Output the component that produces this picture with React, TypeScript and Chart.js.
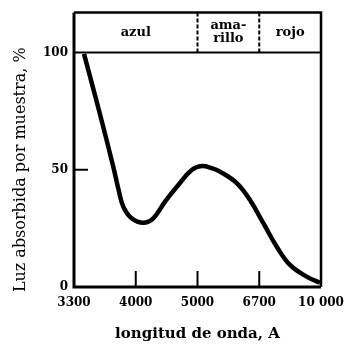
import React, { useEffect, useRef } from "react";
import { Chart, registerables } from "chart.js";

Chart.register(...registerables);

// Wavelength tick labels (equally spaced positions on the axis)
const xTickLabels = ["3300", "4000", "5000", "6700", "10 000"];
const yTicks = [0, 50, 100];

// Curve: position along the wavelength axis (tick index units) and absorbed light %
const curvePos = [0.162, 0.4, 0.636, 0.717, 0.798, 0.934, 1.122, 1.284, 1.474, 1.689, 1.906, 2.068, 2.23, 2.364, 2.635, 2.85, 3.066, 3.283, 3.498, 3.768, 3.984];
const curveValues = [99.4, 75.8, 51.3, 42.0, 34.3, 29.3, 27.4, 29.3, 36.4, 43.5, 49.9, 51.6, 50.7, 49.2, 44.3, 37.1, 27.2, 17.2, 9.4, 4.4, 1.8];

// Colour bands above the plot
const bandNames = ["azul", "ama-|rillo", "rojo"];
const bandEdges = [0, 2, 3, 4];

const yTitle = "Luz absorbida por muestra, %";
const xTitle = "longitud de onda, A";

const SERIF = "'DejaVu Serif', serif";

const framePlugin = {
  id: "framePlugin",
  afterDatasetsDraw(chart: any) {
    const { ctx, chartArea } = chart;
    const { left, right, top, bottom } = chartArea;
    const xs = chart.scales.x;
    const ys = chart.scales.y;
    const bandTop = top - 40;
    ctx.save();
    ctx.strokeStyle = "#000";
    ctx.lineCap = "butt";
    // frame
    ctx.lineWidth = 3;
    ctx.beginPath();
    ctx.moveTo(left, bandTop);
    ctx.lineTo(left, bottom);
    ctx.lineTo(right, bottom);
    ctx.stroke();
    ctx.lineWidth = 2.5;
    ctx.beginPath();
    ctx.moveTo(right, bottom);
    ctx.lineTo(right, bandTop);
    ctx.lineTo(left, bandTop);
    ctx.stroke();
    ctx.lineWidth = 2;
    ctx.beginPath();
    ctx.moveTo(left, top);
    ctx.lineTo(right, top);
    ctx.stroke();
    // inside ticks on y
    ctx.lineWidth = 2;
    yTicks.forEach((v) => {
      if (v === 0 || v === 100) return;
      const y = ys.getPixelForValue(v);
      ctx.beginPath();
      ctx.moveTo(left, y);
      ctx.lineTo(left + 14, y);
      ctx.stroke();
    });
    // inside ticks on x
    xTickLabels.forEach((_, i) => {
      if (i === 0 || i === xTickLabels.length - 1) return;
      const x = xs.getPixelForValue(i);
      ctx.beginPath();
      ctx.moveTo(x, bottom);
      ctx.lineTo(x, bottom - 16);
      ctx.stroke();
    });
    // band dividers
    ctx.setLineDash([4, 2]);
    ctx.lineWidth = 2;
    for (let i = 1; i < bandEdges.length - 1; i++) {
      const x = xs.getPixelForValue(bandEdges[i]);
      ctx.beginPath();
      ctx.moveTo(x, bandTop);
      ctx.lineTo(x, top);
      ctx.stroke();
    }
    ctx.setLineDash([]);
    // band labels
    ctx.fillStyle = "#000";
    ctx.font = "bold 13px " + SERIF;
    ctx.textAlign = "center";
    ctx.textBaseline = "middle";
    bandNames.forEach((name, i) => {
      const cx = (xs.getPixelForValue(bandEdges[i]) + xs.getPixelForValue(bandEdges[i + 1])) / 2;
      const lines = name.split("|");
      const mid = top - 20;
      const lh = 13;
      lines.forEach((ln, j) => {
        const y = mid + (j - (lines.length - 1) / 2) * lh;
        ctx.fillText(ln, cx, y);
      });
    });
    ctx.restore();
  },
};

export default function App() {
  const ref = useRef<HTMLCanvasElement | null>(null);
  useEffect(() => {
    if (!ref.current) return;
    const chart = new Chart(ref.current, {
      type: "line",
      data: {
        datasets: [
          {
            data: curvePos.map((x, i) => ({ x, y: curveValues[i] })),
            borderColor: "#000",
            borderWidth: 4.5,
            pointRadius: 0,
            tension: 0.4,
            fill: false,
            clip: false as any,
          },
        ],
      },
      options: {
        responsive: false,
        animation: false,
        layout: { padding: { top: 52.5, right: 25, left: 0, bottom: 0 } },
        plugins: { legend: { display: false }, tooltip: { enabled: false } },
        scales: {
          x: {
            type: "linear",
            min: 0,
            max: xTickLabels.length - 1,
            grid: { display: false, drawTicks: false },
            border: { display: false },
            ticks: {
              stepSize: 1,
              autoSkip: false,
              maxRotation: 0,
              padding: 9,
              color: "#000",
              font: { family: SERIF, size: 12, weight: "bold" },
              callback: (v: any) => xTickLabels[Math.round(Number(v))] ?? "",
            },
            title: {
              display: true,
              text: xTitle,
              color: "#000",
              font: { family: SERIF, size: 15, weight: "bold" },
              padding: { top: 0, bottom: 1 },
            },
            afterFit: (s: any) => {
              s.height = 57;
              s.paddingLeft = 0;
              s.paddingRight = 0;
            },
          },
          y: {
            min: 0,
            max: 100,
            grid: { display: false, drawTicks: false },
            border: { display: false },
            ticks: {
              stepSize: 50,
              padding: 6,
              color: "#000",
              font: { family: SERIF, size: 12, weight: "bold" },
            },
            title: {
              display: true,
              text: yTitle,
              color: "#000",
              font: { family: SERIF, size: 16 },
              padding: { top: 11, bottom: 0 },
            },
            afterFit: (s: any) => {
              s.width = 74;
              s.paddingTop = 0;
              s.paddingBottom = 0;
            },
          },
        },
      },
      plugins: [framePlugin],
    } as any);
    return () => chart.destroy();
  }, []);
  return (
    <div style={{ position: "absolute", left: 0, top: 0, width: 346, height: 344, background: "#fff" }}>
      <canvas ref={ref} width={346} height={344} style={{ display: "block" }} />
    </div>
  );
}
